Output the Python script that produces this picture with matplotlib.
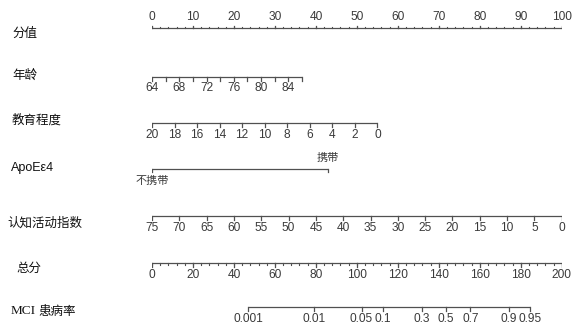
import numpy as np
import matplotlib.pyplot as plt

plt.rcParams['font.family'] = ['Liberation Sans', 'Noto Sans CJK SC', 'DejaVu Sans']

# row labels
row_labels = ["分值", "年龄", "教育程度", "ApoEε4", "认知活动指数", "总分", "MCI 患病率"]

# points scale
point_major = [0, 10, 20, 30, 40, 50, 60, 70, 80, 90, 100]
point_minor = list(range(0, 101, 2))

# age: 64 -> 0 points, 86 -> 36.6 points
age_range = [64, 86]
age_pts = [0, 36.6]
age_ticks = list(range(64, 87, 2))
age_labels = [64, 68, 72, 76, 80, 84]

# education: 20 -> 0 points, 0 -> 55 points
edu_range = [20, 0]
edu_pts = [0, 55]
edu_ticks = list(range(20, -1, -2))

# ApoE e4
apoe_labels = ["不携带", "携带"]
apoe_pts = [0, 43]

# cognitive activity index: 75 -> 0, 0 -> 100
cog_range = [75, 0]
cog_pts = [0, 100]
cog_ticks = list(range(75, -1, -5))

# total points
total_major = list(range(0, 201, 20))
total_minor = list(range(0, 201, 4))

# risk
risk_ticks = [0.001, 0.01, 0.05, 0.1, 0.3, 0.5, 0.7, 0.9, 0.95]
risk_labels = ["0.001", "0.01", "0.05", "0.1", "0.3", "0.5", "0.7", "0.9", "0.95"]
lp_center = 143.5   # total points at p = 0.5
lp_scale = 14.0     # total points per logit unit

W, H = 572, 326
fig = plt.figure(figsize=(W / 100, H / 100), dpi=100)
x0, x1 = 152, 561.7
ax = fig.add_axes([x0 / W, 0, (x1 - x0) / W, 1])
ax.set_xlim(0, 100)
ax.set_ylim(H, 0)
ax.axis('off')

lc = '#505050'
tc = '#3a3a3a'
tick_fs = 8.6
px = 100 / (x1 - x0)   # points per pixel


def axis_line(y, xs, tick_len=3.5, minor=None, minor_len=1.5, up=False):
    ax.plot([min(xs), max(xs)], [y, y], color=lc, lw=0.9, solid_capstyle='butt')
    d = -1 if up else 1
    for x in xs:
        ax.plot([x, x], [y, y + d * tick_len], color=lc, lw=0.9)
    if minor is not None:
        for x in minor:
            ax.plot([x, x], [y, y + d * minor_len], color=lc, lw=0.8)


def tick_labels(y, xs, labels):
    for x, s in zip(xs, labels):
        ax.text(x, y, str(s), ha='center', va='center', fontsize=tick_fs, color=tc)


def to_pts(v, rng, pts):
    return pts[0] + (np.asarray(v, float) - rng[0]) / (rng[1] - rng[0]) * (pts[1] - pts[0])


# row labels
label_y = [33, 75, 120, 168, 223, 268, 311]
label_x = [12, 12, 12, 11, 7, 16, 11]
for s, lx, ly in zip(row_labels, label_x, label_y):
    xp = (lx - x0) * px
    if s.startswith("MCI"):
        ax.text(xp, ly, "MCI", ha='left', va='center', fontsize=9.5, color='#111111',
                family=['Liberation Serif'])
        ax.text(xp + 27 * px, ly, "患病率", ha='left', va='center', fontsize=9,
                color='#111111', family=['Noto Sans CJK SC'])
    elif s.startswith("Apo"):
        ax.text(xp, ly, s, ha='left', va='center', fontsize=9, color='#111111')
    else:
        ax.text(xp, ly, s, ha='left', va='center', fontsize=9, color='#111111',
                family=['Noto Sans CJK SC'])

# points
axis_line(28, point_major, tick_len=2.5, minor=point_minor, minor_len=1.2, up=True)
tick_labels(17, point_major, point_major)

# age
axis_line(77, to_pts(age_ticks, age_range, age_pts))
tick_labels(88, to_pts(age_labels, age_range, age_pts), age_labels)

# education
edu_x = to_pts(edu_ticks, edu_range, edu_pts)
axis_line(123, edu_x)
tick_labels(135, edu_x, edu_ticks)

# ApoE
axis_line(169, apoe_pts, tick_len=2.5)
ax.text(apoe_pts[0], 181, apoe_labels[0], ha='center', va='center', fontsize=8,
        color=tc, family=['Noto Sans CJK SC'])
ax.text(apoe_pts[1], 158, apoe_labels[1], ha='center', va='center', fontsize=8,
        color=tc, family=['Noto Sans CJK SC'])

# cognitive activity
cog_x = to_pts(cog_ticks, cog_range, cog_pts)
axis_line(216, cog_x)
tick_labels(228, cog_x, cog_ticks)

# total points (0-200 over the same width)
tot_x = np.array(total_major) / 2
axis_line(263, tot_x, minor=np.array(total_minor) / 2, minor_len=1.5)
tick_labels(275, tot_x, total_major)

# risk
p = np.array(risk_ticks)
risk_tp = lp_center + lp_scale * np.log(p / (1 - p))
risk_x = risk_tp / 2
axis_line(307, risk_x)
tick_labels(319.5, risk_x, risk_labels)

fig.savefig("out.png", dpi=100)
